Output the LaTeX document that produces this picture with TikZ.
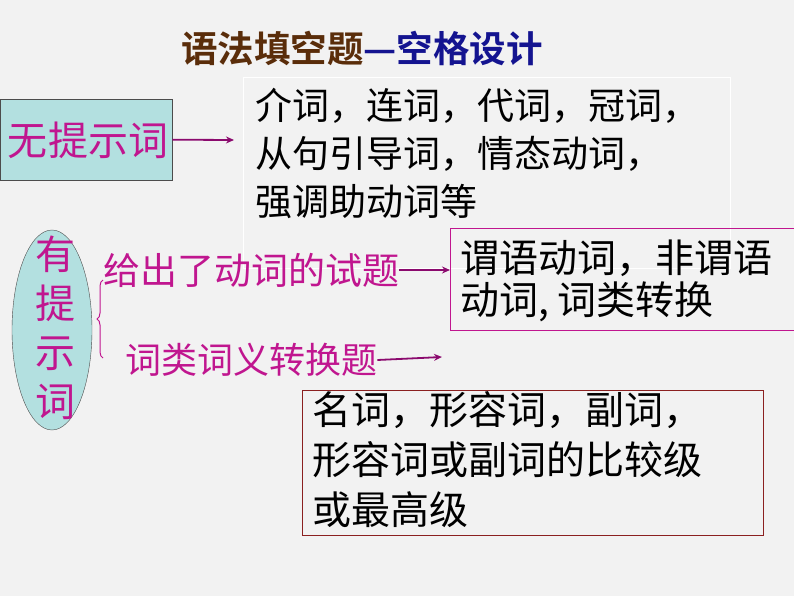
\documentclass[tikz,border=0pt]{standalone}
\usepackage{fontspec}
\setmainfont{Noto Sans CJK SC}
\newfontfamily\cjkb{Noto Sans CJK SC Bold}
\usetikzlibrary{decorations.pathreplacing,arrows.meta,shapes.geometric}
\definecolor{bg}{HTML}{F2F2F2}
\definecolor{mag}{HTML}{C0168F}
\definecolor{teal}{HTML}{B3E0E0}
\definecolor{brn}{HTML}{5A2D0A}
\definecolor{dblue}{HTML}{141490}
\definecolor{arr}{HTML}{8B0A6E}
\definecolor{dred}{HTML}{8B2020}
\tikzset{
 conn/.style={draw=arr,line width=1.8pt,-{Stealth[length=8pt,width=7pt]}},
 txt/.style={anchor=north west,align=left,inner sep=0pt},
}
\begin{document}
\begin{tikzpicture}[x=1pt,y=-1pt]
\fill[bg] (0,0) rectangle (794,596);
\useasboundingbox (0,0) rectangle (794,596);
\node (title) at (362,48) {\cjkb\fontsize{36.5}{40}\selectfont\color{brn}语法填空题\color{dblue}—空格设计};
\draw[white,line width=1pt] (243,78) rectangle (730,268);
\node[draw=black!70,fill=teal,minimum width=172pt,minimum height=81pt,anchor=north west,inner sep=0pt] (wu) at (0,99) {};
\node[mag,font=\fontsize{40}{40}\selectfont] (wut) at (88,140) {无提示词};
\coordinate (a1) at (234,140);
\draw[conn] (wu.east) -- (a1);
\node[txt,font=\fontsize{37}{48}\selectfont] (t1) at (255,88) {介词，连词，代词，冠词，\\从句引导词，情态动词，\\强调助动词等};
\node[draw=black!70,fill=teal,ellipse,minimum width=80pt,minimum height=200pt,inner sep=0pt] (you) at (52,330) {};
\node[mag,align=center,font=\fontsize{40}{49}\selectfont] (yout) at (55,328) {有\\提\\示\\词};
\draw[mag,line width=1pt,decorate,decoration={brace,amplitude=6pt,mirror}] (103,280) -- (103,358);
\node[mag,anchor=west,inner sep=0pt,font=\fontsize{37}{40}\selectfont] (g1) at (103,270) {给出了动词的试题};
\node[draw=mag,line width=1pt,minimum width=346pt,minimum height=102pt,anchor=north west,inner sep=0pt] (b2) at (450,228) {};
\node[txt,font=\fontsize{39}{42}\selectfont] (t2) at (460,240) {谓语动词，非谓语\\动词, 词类转换};
\draw[conn] (g1.east) -- (b2.west |- g1.east);
\node[mag,anchor=west,inner sep=0pt,font=\fontsize{36}{40}\selectfont] (g2) at (125,360) {词类词义转换题};
\coordinate (a3) at (442,357);
\draw[conn] (g2.east) -- (a3);
\node[draw=dred,line width=1pt,minimum width=461pt,minimum height=145pt,anchor=north west,inner sep=0pt] (b3) at (302,390) {};
\node[txt,font=\fontsize{39}{50}\selectfont] (t3) at (312,391) {名词，形容词，副词，\\形容词或副词的比较级\\或最高级};
\end{tikzpicture}
\end{document}
